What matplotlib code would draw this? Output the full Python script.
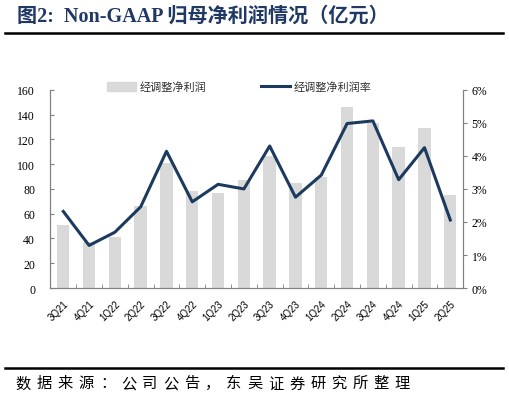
import numpy as np
import matplotlib
matplotlib.use('Agg')
import matplotlib.pyplot as plt
from matplotlib.lines import Line2D
from matplotlib.patches import Patch

plt.rcParams['font.family'] = ['Liberation Serif', 'Noto Sans CJK SC', 'DejaVu Sans']

# 数据
quarters = ['3Q21', '4Q21', '1Q22', '2Q22', '3Q22', '4Q22', '1Q23', '2Q23',
            '3Q23', '4Q23', '1Q24', '2Q24', '3Q24', '4Q24', '1Q25', '2Q25']
profit = [51, 37, 41, 66, 101, 78, 77, 87, 107, 85, 90, 146, 133, 114, 129, 75]
margin = [2.32, 1.29, 1.69, 2.46, 4.14, 2.61, 3.14, 3.00, 4.30, 2.75, 3.42,
          4.98, 5.06, 3.28, 4.25, 2.06]

bar_color = '#d9d9d9'
line_color = '#1c3a5e'
spine_color = '#808080'

fig = plt.figure(figsize=(5.09, 4.02), dpi=100)

# 标题
fig.text(0.033, 0.958, '图2:  Non-GAAP 归母净利润情况（亿元）', fontsize=14.5,
         fontweight='bold', color='#1f3864', va='center', ha='left')
fig.add_artist(Line2D([0.01, 0.988], [0.915, 0.915], color='black', lw=1.8))
fig.add_artist(Line2D([0.01, 0.988], [0.081, 0.081], color='black', lw=1.8))

# 数据来源（字间距较大，逐字放置）
src = '数据来源：公司公告，东吴证券研究所整理'
for i, ch in enumerate(src):
    fig.text(0.031 + i * 0.0413, 0.045, ch, fontsize=11, family='Noto Sans CJK SC',
             va='center', ha='left', color='black')

ax = fig.add_axes([0.099, 0.281, 0.811, 0.493])
x = np.arange(len(quarters))
ax.bar(x, profit, width=0.48, color=bar_color, zorder=1)
ax.set_xlim(-0.5, len(quarters) - 0.5)
ax.set_ylim(0, 160)
ax.set_yticks(range(0, 161, 20))

ax2 = ax.twinx()
ax2.plot(x, margin, color=line_color, lw=2.2, zorder=3)
ax2.set_ylim(0, 6)
ax2.set_yticks(range(0, 7))
ax2.set_yticklabels([f'{v}%' for v in range(0, 7)])

for a in (ax, ax2):
    a.spines['top'].set_visible(False)
    for s in ('left', 'right', 'bottom'):
        a.spines[s].set_color(spine_color)
        a.spines[s].set_linewidth(0.8)

ax.tick_params(axis='y', direction='in', length=3, color=spine_color,
               labelsize=8.5, pad=11)
ax2.tick_params(axis='y', direction='out', length=3, color=spine_color,
                labelsize=8.5, pad=3)

ax.set_xticks(x)
ax.set_xticklabels(quarters, rotation=45, ha='right', va='top',
                   rotation_mode='anchor', fontsize=7, family='Liberation Sans')
ax.tick_params(axis='x', which='major', length=0, pad=7)
ax.set_xticks(np.arange(-0.5, len(quarters), 1), minor=True)
ax.tick_params(axis='x', which='minor', direction='in', length=3, color=spine_color)

handles = [Patch(color=bar_color), Line2D([], [], color=line_color, lw=2.2)]
leg = fig.legend(handles, ['经调整净利润', '经调整净利润率'], loc='center',
                 bbox_to_anchor=(0.47, 0.781), ncol=2, frameon=False,
                 handlelength=2.6, handleheight=0.8,
                 columnspacing=5, handletextpad=0.3,
                 prop={'family': 'Noto Sans CJK SC', 'size': 8})
for t in leg.get_texts():
    t.set_color('#333333')

fig.savefig('out.png', dpi=100)
